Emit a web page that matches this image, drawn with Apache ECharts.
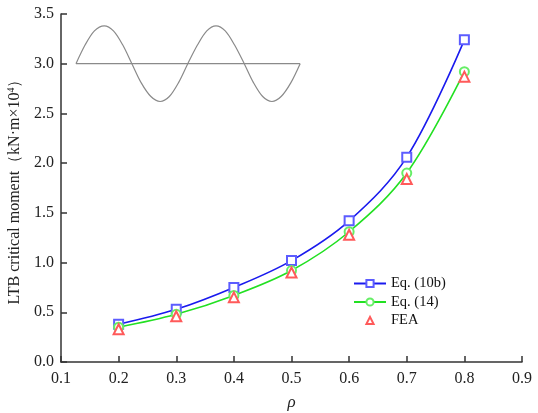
<!DOCTYPE html>
<html>
<head>
<meta charset="utf-8">
<script src="https://cdn.jsdelivr.net/npm/echarts@6/dist/echarts.min.js"></script>
<style>
  html, body { margin: 0; padding: 0; background: #fff; }
  #chart { width: 538px; height: 413px; }
</style>
</head>
<body>
<div id="chart"></div>
<script>
// Load ratio rho
const rho = [0.2, 0.3, 0.4, 0.5, 0.6, 0.7, 0.8];
// LTB critical moment (kN·m×10^4)
const eq10b = [0.38, 0.53, 0.75, 1.02, 1.42, 2.06, 3.24];
const eq14  = [0.35, 0.48, 0.67, 0.92, 1.31, 1.90, 2.92];
const fea   = [0.33, 0.46, 0.65, 0.90, 1.28, 1.84, 2.87];

// Buckled-shape sketch in the upper-left corner (two full waves about the 3.0 line)
const waveX = [0.126, 0.142, 0.158, 0.175, 0.191, 0.207, 0.223, 0.239, 0.256,
               0.272, 0.288, 0.304, 0.320, 0.337, 0.353, 0.369, 0.385, 0.401,
               0.418, 0.434, 0.450, 0.466, 0.482, 0.499, 0.515];
const waveY = [3.00, 3.19, 3.33, 3.38, 3.33, 3.19, 3.00, 2.81, 2.67,
               2.62, 2.67, 2.81, 3.00, 3.19, 3.33, 3.38, 3.33, 3.19,
               3.00, 2.81, 2.67, 2.62, 2.67, 2.81, 3.00];
const baseX = [0.126, 0.515];
const baseY = [3.00, 3.00];

const xTicks = { min: 0.1, max: 0.9, step: 0.1 };
const yTicks = { min: 0, max: 3.5, step: 0.5 };

const pair = (xs, ys) => xs.map((x, i) => [x, ys[i]]);
const serif = 'Liberation Serif';

const chart = echarts.init(document.getElementById('chart'), null, { renderer: 'canvas' });
chart.setOption({
  animation: false,
  backgroundColor: '#fff',
  textStyle: { fontFamily: serif },
  grid: { left: 61, right: 16, top: 14, bottom: 51, containLabel: false, outerBoundsMode: 'none' },
  legend: {
    data: ['Eq. (10b)', 'Eq. (14)', 'FEA'],
    orient: 'vertical',
    left: 348,
    top: 271,
    itemWidth: 32,
    itemHeight: 9,
    itemGap: 3.5,
    textStyle: { fontFamily: serif, fontSize: 14.5, color: '#111' }
  },
  xAxis: {
    type: 'value',
    min: xTicks.min, max: xTicks.max, interval: xTicks.step,
    name: 'ρ',
    nameLocation: 'middle',
    nameGap: 32,
    nameTextStyle: { fontFamily: serif, fontStyle: 'italic', fontSize: 17, color: '#222' },
    axisLine: { lineStyle: { color: '#333', width: 1.5 } },
    axisTick: { inside: true, length: 6, lineStyle: { color: '#333', width: 1.5 } },
    axisLabel: { margin: 9, fontSize: 16, color: '#222', fontFamily: serif,
                 formatter: v => v.toFixed(1) },
    splitLine: { show: false }
  },
  yAxis: {
    type: 'value',
    min: yTicks.min, max: yTicks.max, interval: yTicks.step,
    name: 'LTB critical moment（kN·m×10{sup|4}）',
    nameLocation: 'middle',
    nameGap: 38,
    nameRotate: 90,
    nameTextStyle: {
      fontFamily: serif, fontSize: 16, color: '#222',
      rich: { sup: { fontFamily: serif, fontSize: 10, color: '#222', verticalAlign: 'top', padding: [0, 0, 7, 0] } }
    },
    axisLine: { show: true, lineStyle: { color: '#333', width: 1.5 } },
    axisTick: { show: true, inside: true, length: 6, lineStyle: { color: '#333', width: 1.5 } },
    axisLabel: { margin: 7, fontSize: 16, color: '#222', fontFamily: serif,
                 formatter: v => v.toFixed(1) },
    splitLine: { show: false }
  },
  series: [
    {
      name: 'wave', type: 'line', data: pair(waveX, waveY), smooth: 0.3,
      symbol: 'none', silent: true,
      lineStyle: { color: '#8a8a8a', width: 1.2 }, z: 1
    },
    {
      name: 'base', type: 'line', data: pair(baseX, baseY),
      symbol: 'none', silent: true,
      lineStyle: { color: '#8a8a8a', width: 1.2 }, z: 1
    },
    {
      name: 'Eq. (10b)', type: 'line', data: pair(rho, eq10b), smooth: 0.35,
      symbol: 'emptyRect', symbolSize: 9,
      lineStyle: { color: '#1a1aee', width: 1.6 },
      itemStyle: { color: '#5c5cff', borderColor: '#5c5cff', borderWidth: 1.2 }, z: 3
    },
    {
      name: 'Eq. (14)', type: 'line', data: pair(rho, eq14), smooth: 0.35,
      symbol: 'emptyCircle', symbolSize: 9,
      lineStyle: { color: '#22e022', width: 1.6 },
      itemStyle: { color: '#66ee66', borderColor: '#66ee66', borderWidth: 1.2 }, z: 3
    },
    {
      name: 'FEA', type: 'line', data: pair(rho, fea),
      symbol: 'emptyTriangle', symbolSize: 10,
      lineStyle: { opacity: 0, width: 0 },
      itemStyle: { color: '#ff5a5a', borderColor: '#ff5a5a', borderWidth: 1.2 }, z: 4
    }
  ]
});
</script>
</body>
</html>
